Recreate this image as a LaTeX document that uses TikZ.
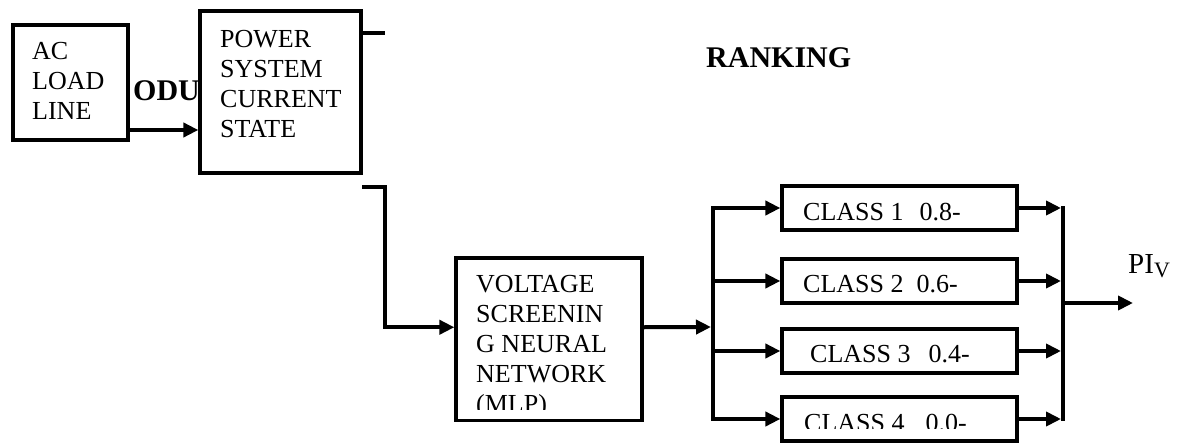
\documentclass[tikz,border=0pt]{standalone}
\usepackage{fontspec}
\setmainfont{Liberation Serif}
\usetikzlibrary{arrows.meta}
\begin{document}
\begin{tikzpicture}[x=1pt,y=-1pt,
  box/.style={draw, line width=3.2pt, fill=white, inner sep=0pt},
  txt/.style={inner sep=0pt, font=\fontsize{26}{30}\selectfont, align=left},
  big/.style={inner sep=0pt, font=\fontsize{30}{36}\selectfont\bfseries},
  link/.style={line width=4pt},
  bus/.style={line width=4pt, line cap=rect},
  arr/.style={line width=4pt, -{Triangle[length=15pt,width=14pt]}},
]
\useasboundingbox (0,0) rectangle (1180,444);

% partly hidden bold text behind the boxes
\node[big, anchor=base west] (odu) at (133,100) {ODU};
\node[big, anchor=base west] (rank) at (706,67) {RANKING};

% boxes
\node[box, minimum width=115pt, minimum height=115pt] (ac) at (70.5,82.5) {};
\node[box, minimum width=161pt, minimum height=162pt] (pw) at (280.5,92) {};
\node[box, minimum width=186pt, minimum height=162.5pt] (vs) at (549,339.25) {};
\node[box, minimum width=235pt, minimum height=44pt] (c1) at (899.5,208) {};
\node[box, minimum width=235pt, minimum height=44pt] (c2) at (899.5,281) {};
\node[box, minimum width=235pt, minimum height=44pt] (c3) at (899.5,351) {};
\node[box, minimum width=235pt, minimum height=44pt] (c4) at (899.5,419) {};

% texts
\node[txt, anchor=north west] (tac) at (32,42) {AC\\LOAD\\LINE};
\node[txt, anchor=north west] (tpw) at (220,30) {POWER\\SYSTEM\\CURRENT\\STATE};
\begin{scope}
  \clip (456,258) rectangle (642,409);
  \node[txt, anchor=north west] (tvs) at (476,275) {VOLTAGE\\SCREENIN\\G NEURAL\\NETWORK\\(MLP)};
\end{scope}
\node[txt, anchor=base west] (t1) at (803,220) {CLASS 1\hspace{16pt}0.8-};
\node[txt, anchor=base west] (t2) at (803,292) {CLASS 2\hspace{13pt}0.6-};
\node[txt, anchor=base west] (t3) at (810,362) {CLASS 3\hspace{18pt}0.4-};
\begin{scope}
  \clip (782,397) rectangle (1017,428);
  \node[txt, anchor=base west] (t4) at (804,431) {CLASS 4\hspace{21pt}0.0-};
\end{scope}
\node[inner sep=0pt, anchor=base west, font=\fontsize{29}{32}\selectfont] (pi) at (1128,273)
  {PI\raisebox{-4pt}{\fontsize{22}{24}\selectfont V}};

% coordinates
\coordinate (st) at (385,33);
\coordinate (bs) at (362,187);
\coordinate (bc) at (385,187);
\coordinate (lb) at (713,327);
\coordinate (rb) at (1063,303);
\coordinate (out) at (1133,303);

% connectors
\draw[arr] ([yshift=-47.5pt]ac.east) -- ([yshift=-47.5pt]ac.east -| pw.west);
\draw[link] (pw.east |- st) -- (st);
\draw[arr] (bs) -- (bc) |- ([yshift=12pt]vs.west);
\draw[arr] ([yshift=12pt]vs.east) -- ([xshift=-2pt]lb);
\draw[bus] (c1.west -| lb) -- (c4.west -| lb);
\foreach \c in {c1,c2,c3,c4}{
  \draw[arr] (\c.west -| lb) -- (\c.west);
  \draw[arr] (\c.east) -- ([xshift=-2pt]\c.east -| rb);
}
\draw[bus] (c1.east -| rb) -- (c4.east -| rb);
\draw[arr] (rb) -- (out);
\end{tikzpicture}
\end{document}
